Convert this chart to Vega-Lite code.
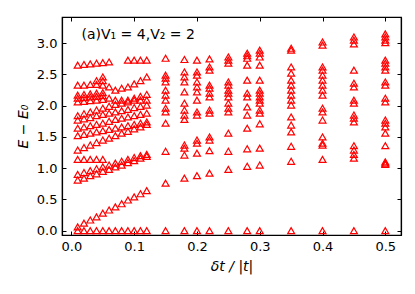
{
  "$schema": "https://vega.github.io/schema/vega-lite/v6.json",
  "width": 339,
  "height": 218,
  "autosize": "none",
  "padding": {"left": 62, "top": 17, "right": 14, "bottom": 59},
  "background": "white",
  "datasets": {
    "pts": [
      {"x":0.01,"y":0},{"x":0.01,"y":0.06},{"x":0.01,"y":0.81},{"x":0.01,"y":0.90},{"x":0.01,"y":1.14},{"x":0.01,"y":1.29},{"x":0.01,"y":1.52},{"x":0.01,"y":1.64},{"x":0.01,"y":1.77},{"x":0.01,"y":1.84},{"x":0.01,"y":2.06},{"x":0.01,"y":2.12},{"x":0.01,"y":2.17},{"x":0.01,"y":2.33},{"x":0.01,"y":2.65},
      {"x":0.02,"y":0},{"x":0.02,"y":0.12},{"x":0.02,"y":0.84},{"x":0.02,"y":0.93},{"x":0.02,"y":1.14},{"x":0.02,"y":1.33},{"x":0.02,"y":1.54},{"x":0.02,"y":1.66},{"x":0.02,"y":1.79},{"x":0.02,"y":1.87},{"x":0.02,"y":2.07},{"x":0.02,"y":2.13},{"x":0.02,"y":2.18},{"x":0.02,"y":2.33},{"x":0.02,"y":2.66},
      {"x":0.03,"y":0},{"x":0.03,"y":0.17},{"x":0.03,"y":0.88},{"x":0.03,"y":0.96},{"x":0.03,"y":1.14},{"x":0.03,"y":1.37},{"x":0.03,"y":1.56},{"x":0.03,"y":1.68},{"x":0.03,"y":1.81},{"x":0.03,"y":1.90},{"x":0.03,"y":2.08},{"x":0.03,"y":2.14},{"x":0.03,"y":2.19},{"x":0.03,"y":2.34},{"x":0.03,"y":2.67},
      {"x":0.04,"y":0},{"x":0.04,"y":0.22},{"x":0.04,"y":0.91},{"x":0.04,"y":0.99},{"x":0.04,"y":1.14},{"x":0.04,"y":1.41},{"x":0.04,"y":1.58},{"x":0.04,"y":1.70},{"x":0.04,"y":1.84},{"x":0.04,"y":1.93},{"x":0.04,"y":2.09},{"x":0.04,"y":2.15},{"x":0.04,"y":2.20},{"x":0.04,"y":2.34},{"x":0.04,"y":2.40},{"x":0.04,"y":2.68},
      {"x":0.05,"y":0},{"x":0.05,"y":0.28},{"x":0.05,"y":0.95},{"x":0.05,"y":1.02},{"x":0.05,"y":1.14},{"x":0.05,"y":1.45},{"x":0.05,"y":1.60},{"x":0.05,"y":1.72},{"x":0.05,"y":1.86},{"x":0.05,"y":1.96},{"x":0.05,"y":2.10},{"x":0.05,"y":2.16},{"x":0.05,"y":2.21},{"x":0.05,"y":2.33},{"x":0.05,"y":2.40},{"x":0.05,"y":2.46},{"x":0.05,"y":2.69},
      {"x":0.06,"y":0},{"x":0.06,"y":0.33},{"x":0.06,"y":0.98},{"x":0.06,"y":1.05},{"x":0.06,"y":1.48},{"x":0.06,"y":1.62},{"x":0.06,"y":1.75},{"x":0.06,"y":1.88},{"x":0.06,"y":1.99},{"x":0.06,"y":2.12},{"x":0.06,"y":2.30},{"x":0.06,"y":2.70},
      {"x":0.07,"y":0},{"x":0.07,"y":0.38},{"x":0.07,"y":1.02},{"x":0.07,"y":1.08},{"x":0.07,"y":1.52},{"x":0.07,"y":1.64},{"x":0.07,"y":1.78},{"x":0.07,"y":1.90},{"x":0.07,"y":2.02},{"x":0.07,"y":2.09},{"x":0.07,"y":2.25},
      {"x":0.08,"y":0},{"x":0.08,"y":0.43},{"x":0.08,"y":1.05},{"x":0.08,"y":1.11},{"x":0.08,"y":1.56},{"x":0.08,"y":1.66},{"x":0.08,"y":1.80},{"x":0.08,"y":1.92},{"x":0.08,"y":2.04},{"x":0.08,"y":2.09},{"x":0.08,"y":2.28},
      {"x":0.09,"y":0},{"x":0.09,"y":0.49},{"x":0.09,"y":1.09},{"x":0.09,"y":1.14},{"x":0.09,"y":1.59},{"x":0.09,"y":1.68},{"x":0.09,"y":1.82},{"x":0.09,"y":1.94},{"x":0.09,"y":2.06},{"x":0.09,"y":2.09},{"x":0.09,"y":2.30},{"x":0.09,"y":2.73},
      {"x":0.10,"y":0},{"x":0.10,"y":0.54},{"x":0.10,"y":1.12},{"x":0.10,"y":1.17},{"x":0.10,"y":1.63},{"x":0.10,"y":1.70},{"x":0.10,"y":1.84},{"x":0.10,"y":1.97},{"x":0.10,"y":2.09},{"x":0.10,"y":2.12},{"x":0.10,"y":2.35},{"x":0.10,"y":2.73},
      {"x":0.11,"y":0},{"x":0.11,"y":0.59},{"x":0.11,"y":1.16},{"x":0.11,"y":1.20},{"x":0.11,"y":1.66},{"x":0.11,"y":1.72},{"x":0.11,"y":1.86},{"x":0.11,"y":1.99},{"x":0.11,"y":2.09},{"x":0.11,"y":2.15},{"x":0.11,"y":2.40},{"x":0.11,"y":2.73},
      {"x":0.12,"y":0},{"x":0.12,"y":0.64},{"x":0.12,"y":1.19},{"x":0.12,"y":1.22},{"x":0.12,"y":1.70},{"x":0.12,"y":1.74},{"x":0.12,"y":1.88},{"x":0.12,"y":2.01},{"x":0.12,"y":2.09},{"x":0.12,"y":2.18},{"x":0.12,"y":2.46},{"x":0.12,"y":2.73},
      {"x":0.15,"y":0},{"x":0.15,"y":0.76},{"x":0.15,"y":1.27},{"x":0.15,"y":1.72},{"x":0.15,"y":1.90},{"x":0.15,"y":1.96},{"x":0.15,"y":2.09},{"x":0.15,"y":2.17},{"x":0.15,"y":2.25},{"x":0.15,"y":2.38},{"x":0.15,"y":2.44},{"x":0.15,"y":2.49},{"x":0.15,"y":2.76},
      {"x":0.18,"y":0},{"x":0.18,"y":0.84},{"x":0.18,"y":1.21},{"x":0.18,"y":1.32},{"x":0.18,"y":1.37},{"x":0.18,"y":1.78},{"x":0.18,"y":1.85},{"x":0.18,"y":1.93},{"x":0.18,"y":2.04},{"x":0.18,"y":2.22},{"x":0.18,"y":2.38},{"x":0.18,"y":2.46},{"x":0.18,"y":2.54},{"x":0.18,"y":2.74},
      {"x":0.2,"y":0},{"x":0.2,"y":0.88},{"x":0.2,"y":1.24},{"x":0.2,"y":1.40},{"x":0.2,"y":1.45},{"x":0.2,"y":1.85},{"x":0.2,"y":1.90},{"x":0.2,"y":2.09},{"x":0.2,"y":2.22},{"x":0.2,"y":2.30},{"x":0.2,"y":2.38},{"x":0.2,"y":2.49},{"x":0.2,"y":2.54},{"x":0.2,"y":2.73},
      {"x":0.22,"y":0},{"x":0.22,"y":0.92},{"x":0.22,"y":1.28},{"x":0.22,"y":1.45},{"x":0.22,"y":1.50},{"x":0.22,"y":1.88},{"x":0.22,"y":1.93},{"x":0.22,"y":2.14},{"x":0.22,"y":2.20},{"x":0.22,"y":2.28},{"x":0.22,"y":2.33},{"x":0.22,"y":2.57},{"x":0.22,"y":2.62},{"x":0.22,"y":2.75},
      {"x":0.25,"y":0},{"x":0.25,"y":0.98},{"x":0.25,"y":1.27},{"x":0.25,"y":1.56},{"x":0.25,"y":1.90},{"x":0.25,"y":1.96},{"x":0.25,"y":2.04},{"x":0.25,"y":2.14},{"x":0.25,"y":2.20},{"x":0.25,"y":2.25},{"x":0.25,"y":2.33},{"x":0.25,"y":2.38},{"x":0.25,"y":2.68},{"x":0.25,"y":2.73},{"x":0.25,"y":2.78},
      {"x":0.28,"y":0},{"x":0.28,"y":1.03},{"x":0.28,"y":1.31},{"x":0.28,"y":1.64},{"x":0.28,"y":1.85},{"x":0.28,"y":1.98},{"x":0.28,"y":2.14},{"x":0.28,"y":2.20},{"x":0.28,"y":2.41},{"x":0.28,"y":2.65},{"x":0.28,"y":2.76},{"x":0.28,"y":2.80},{"x":0.28,"y":2.84},
      {"x":0.3,"y":0},{"x":0.3,"y":1.05},{"x":0.3,"y":1.32},{"x":0.3,"y":1.71},{"x":0.3,"y":1.88},{"x":0.3,"y":1.93},{"x":0.3,"y":2.04},{"x":0.3,"y":2.09},{"x":0.3,"y":2.14},{"x":0.3,"y":2.20},{"x":0.3,"y":2.25},{"x":0.3,"y":2.41},{"x":0.3,"y":2.65},{"x":0.3,"y":2.78},{"x":0.3,"y":2.84},{"x":0.3,"y":2.89},
      {"x":0.35,"y":0},{"x":0.35,"y":1.11},{"x":0.35,"y":1.35},{"x":0.35,"y":1.58},{"x":0.35,"y":1.69},{"x":0.35,"y":1.82},{"x":0.35,"y":2.01},{"x":0.35,"y":2.09},{"x":0.35,"y":2.17},{"x":0.35,"y":2.25},{"x":0.35,"y":2.33},{"x":0.35,"y":2.41},{"x":0.35,"y":2.52},{"x":0.35,"y":2.62},{"x":0.35,"y":2.89},{"x":0.35,"y":2.92},
      {"x":0.4,"y":0},{"x":0.4,"y":1.14},{"x":0.4,"y":1.37},{"x":0.4,"y":1.40},{"x":0.4,"y":1.50},{"x":0.4,"y":1.77},{"x":0.4,"y":1.90},{"x":0.4,"y":1.96},{"x":0.4,"y":2.17},{"x":0.4,"y":2.25},{"x":0.4,"y":2.33},{"x":0.4,"y":2.41},{"x":0.4,"y":2.49},{"x":0.4,"y":2.57},{"x":0.4,"y":2.62},{"x":0.4,"y":2.97},{"x":0.4,"y":3.02},
      {"x":0.45,"y":0},{"x":0.45,"y":1.16},{"x":0.45,"y":1.22},{"x":0.45,"y":1.29},{"x":0.45,"y":1.36},{"x":0.45,"y":1.74},{"x":0.45,"y":1.80},{"x":0.45,"y":1.85},{"x":0.45,"y":2.04},{"x":0.45,"y":2.09},{"x":0.45,"y":2.30},{"x":0.45,"y":2.36},{"x":0.45,"y":2.57},{"x":0.45,"y":2.99},{"x":0.45,"y":3.05},{"x":0.45,"y":3.10},
      {"x":0.5,"y":0},{"x":0.5,"y":1.06},{"x":0.5,"y":1.08},{"x":0.5,"y":1.10},{"x":0.5,"y":1.36},{"x":0.5,"y":1.56},{"x":0.5,"y":1.66},{"x":0.5,"y":1.72},{"x":0.5,"y":1.77},{"x":0.5,"y":2.06},{"x":0.5,"y":2.12},{"x":0.5,"y":2.33},{"x":0.5,"y":2.38},{"x":0.5,"y":2.57},{"x":0.5,"y":2.62},{"x":0.5,"y":2.68},{"x":0.5,"y":2.73},{"x":0.5,"y":3.01},{"x":0.5,"y":3.05},{"x":0.5,"y":3.10},{"x":0.5,"y":3.15}
    ],
    "lab": [{"x": 0.016, "y": 3.13, "t": "(a)V₁ = 4,V₂ = 2"}]
  },
  "layer": [
    {
      "data": {"name": "pts"},
      "mark": {"type": "point", "shape": "triangle-up", "filled": false, "stroke": "#ff0000", "strokeWidth": 1.2, "size": 48, "opacity": 1},
      "encoding": {
        "x": {"field": "x", "type": "quantitative",
              "scale": {"domain": [-0.015, 0.525], "nice": false, "zero": false},
              "axis": {"orient": "bottom", "values": [0, 0.1, 0.2, 0.3, 0.4, 0.5], "format": ".1f", "title": "δt / |t|", "titleFontStyle": "italic", "titleFontWeight": "normal", "titleFontSize": 14, "titlePadding": 6}},
        "y": {"field": "y", "type": "quantitative",
              "scale": {"domain": [-0.07, 3.42], "nice": false, "zero": false},
              "axis": {"orient": "left", "values": [0, 0.5, 1, 1.5, 2, 2.5, 3], "format": ".1f", "title": "E − E₀", "titleFontStyle": "italic", "titleFontWeight": "normal", "titleFontSize": 14, "titlePadding": 6}}
      }
    },
    {
      "data": {"name": "lab"},
      "mark": {"type": "text", "align": "left", "baseline": "middle", "font": "DejaVu Sans", "fontSize": 14, "color": "black"},
      "encoding": {
        "x": {"field": "x", "type": "quantitative", "axis": {"orient": "top", "values": [0, 0.1, 0.2, 0.3, 0.4, 0.5], "labels": false, "title": null}},
        "y": {"field": "y", "type": "quantitative", "axis": {"orient": "right", "values": [0, 0.5, 1, 1.5, 2, 2.5, 3], "labels": false, "title": null}},
        "text": {"field": "t"}
      }
    }
  ],
  "resolve": {"axis": {"x": "independent", "y": "independent"}},
  "config": {
    "view": {"stroke": "black", "strokeWidth": 1.2},
    "axis": {"grid": false, "domainColor": "black", "domainWidth": 1.2, "tickColor": "black", "tickSize": -4, "tickWidth": 1, "labelColor": "black", "titleColor": "black", "labelFont": "DejaVu Sans", "titleFont": "DejaVu Sans", "labelFontSize": 13, "labelPadding": 9}
  }
}
